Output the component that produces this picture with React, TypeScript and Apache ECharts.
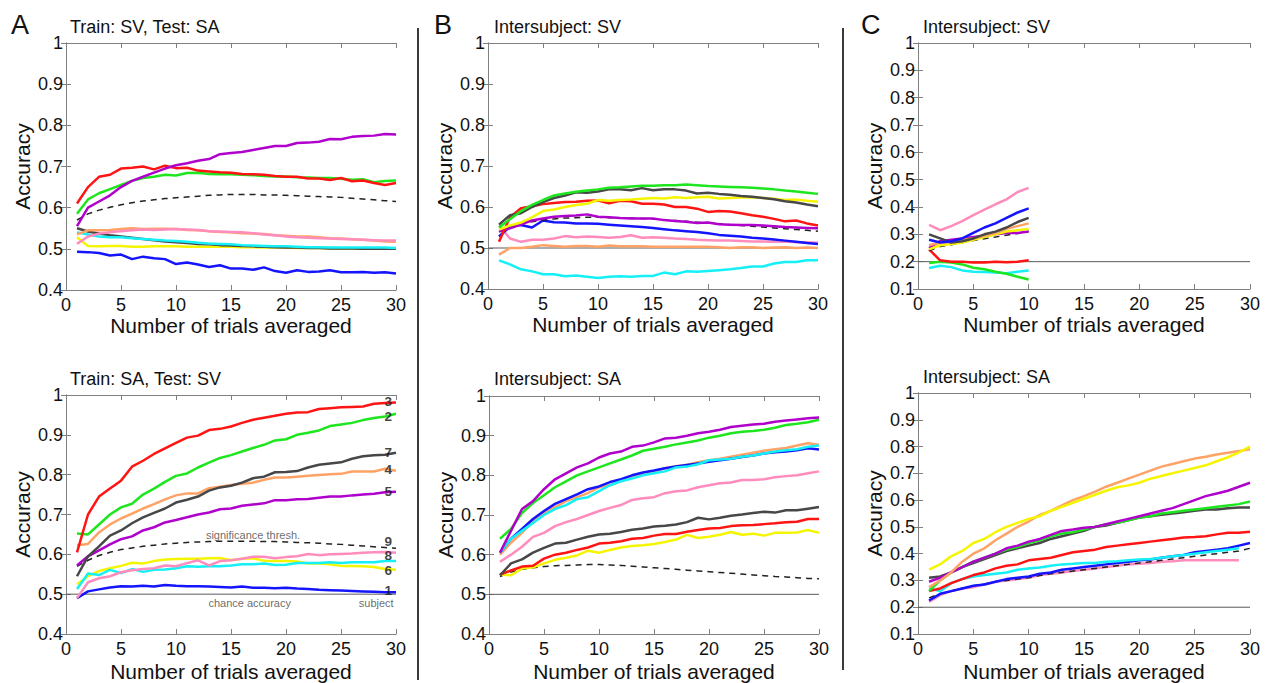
import React, { useEffect, useRef } from 'react';
import * as echarts from 'echarts';

const TRIALS = [1,2,3,4,5,6,7,8,9,10,11,12,13,14,15,16,17,18,19,20,21,22,23,24,25,26,27,28,29,30];

// ---- Panel A top: Train SV, Test SA
const aTopPurple = [0.555,0.600,0.615,0.630,0.650,0.665,0.675,0.685,0.695,0.703,0.708,0.714,0.718,0.730,0.733,0.735,0.740,0.745,0.750,0.750,0.757,0.758,0.760,0.767,0.766,0.772,0.774,0.775,0.779,0.778];
const aTopRed = [0.610,0.650,0.675,0.680,0.695,0.697,0.700,0.693,0.702,0.696,0.697,0.690,0.688,0.686,0.685,0.682,0.681,0.680,0.677,0.675,0.675,0.671,0.671,0.667,0.672,0.664,0.666,0.660,0.655,0.660];
const aTopGreen = [0.585,0.620,0.635,0.645,0.655,0.665,0.672,0.675,0.680,0.678,0.684,0.685,0.682,0.681,0.681,0.680,0.679,0.677,0.676,0.676,0.674,0.673,0.672,0.672,0.670,0.668,0.669,0.662,0.665,0.666];
const aTopThresh = [0.570,0.585,0.594,0.601,0.607,0.612,0.616,0.619,0.622,0.624,0.626,0.628,0.630,0.631,0.632,0.632,0.632,0.631,0.631,0.630,0.629,0.628,0.627,0.626,0.625,0.623,0.621,0.619,0.617,0.615];
const aTopOrange = [0.535,0.545,0.545,0.546,0.548,0.550,0.548,0.549,0.549,0.548,0.546,0.545,0.543,0.541,0.540,0.538,0.537,0.536,0.533,0.532,0.530,0.530,0.528,0.526,0.525,0.523,0.522,0.520,0.518,0.517];
const aTopPink = [0.512,0.530,0.537,0.540,0.543,0.545,0.547,0.546,0.547,0.548,0.547,0.546,0.543,0.542,0.541,0.540,0.538,0.535,0.533,0.530,0.528,0.527,0.526,0.525,0.524,0.523,0.522,0.521,0.520,0.520];
const aTopGray = [0.550,0.542,0.537,0.533,0.530,0.527,0.524,0.521,0.518,0.516,0.514,0.512,0.511,0.509,0.508,0.507,0.506,0.505,0.504,0.503,0.503,0.502,0.502,0.501,0.501,0.501,0.500,0.500,0.500,0.500];
const aTopCyan = [0.540,0.535,0.530,0.528,0.528,0.526,0.524,0.522,0.520,0.519,0.517,0.515,0.513,0.512,0.511,0.509,0.508,0.507,0.506,0.506,0.505,0.504,0.504,0.503,0.503,0.503,0.503,0.503,0.503,0.502];
const aTopYellow = [0.528,0.507,0.506,0.507,0.507,0.505,0.505,0.506,0.506,0.506,0.505,0.505,0.505,0.505,0.505,0.504,0.504,0.503,0.503,0.503,0.502,0.502,0.502,0.501,0.501,0.501,0.500,0.500,0.500,0.500];
const aTopBlue = [0.493,0.492,0.490,0.484,0.486,0.475,0.481,0.477,0.475,0.463,0.467,0.462,0.456,0.460,0.452,0.452,0.449,0.455,0.446,0.442,0.448,0.444,0.445,0.448,0.443,0.443,0.444,0.442,0.443,0.440];

// ---- Panel A bottom: Train SA, Test SV
const aBotRed = [0.605,0.700,0.745,0.765,0.785,0.820,0.835,0.852,0.866,0.880,0.893,0.898,0.912,0.915,0.921,0.930,0.938,0.943,0.948,0.953,0.956,0.957,0.965,0.967,0.969,0.970,0.971,0.978,0.980,0.981];
const aBotGreen = [0.652,0.650,0.675,0.700,0.718,0.727,0.750,0.765,0.782,0.797,0.803,0.818,0.830,0.842,0.849,0.858,0.867,0.875,0.886,0.889,0.900,0.905,0.911,0.922,0.926,0.930,0.937,0.942,0.946,0.953];
const aBotGray = [0.545,0.595,0.620,0.647,0.660,0.678,0.693,0.704,0.715,0.730,0.737,0.745,0.760,0.768,0.772,0.780,0.791,0.795,0.806,0.807,0.809,0.818,0.825,0.828,0.831,0.840,0.846,0.849,0.850,0.855];
const aBotOrange = [0.623,0.626,0.655,0.675,0.690,0.702,0.715,0.726,0.738,0.748,0.753,0.753,0.766,0.770,0.774,0.777,0.780,0.787,0.793,0.793,0.795,0.797,0.799,0.801,0.802,0.808,0.808,0.808,0.815,0.810];
const aBotPurple = [0.572,0.595,0.610,0.625,0.638,0.645,0.660,0.668,0.680,0.686,0.693,0.700,0.705,0.713,0.715,0.722,0.725,0.728,0.736,0.736,0.738,0.739,0.742,0.745,0.745,0.748,0.750,0.752,0.756,0.757];
const aBotThresh = [0.570,0.585,0.597,0.605,0.612,0.616,0.620,0.623,0.626,0.628,0.630,0.631,0.632,0.633,0.633,0.633,0.633,0.632,0.632,0.631,0.630,0.629,0.628,0.626,0.625,0.623,0.621,0.619,0.617,0.615];
const aBotPink = [0.490,0.530,0.540,0.545,0.555,0.560,0.563,0.565,0.572,0.570,0.578,0.585,0.572,0.583,0.585,0.589,0.594,0.594,0.590,0.593,0.595,0.601,0.598,0.600,0.601,0.602,0.604,0.605,0.606,0.604];
const aBotCyan = [0.513,0.552,0.548,0.561,0.553,0.563,0.556,0.561,0.562,0.565,0.570,0.569,0.570,0.570,0.572,0.575,0.575,0.577,0.573,0.574,0.578,0.578,0.578,0.580,0.578,0.580,0.580,0.580,0.583,0.583];
const aBotYellow = [0.525,0.545,0.558,0.565,0.571,0.579,0.577,0.583,0.587,0.588,0.589,0.589,0.590,0.591,0.585,0.589,0.590,0.584,0.583,0.583,0.582,0.577,0.577,0.575,0.571,0.571,0.570,0.568,0.563,0.561];
const aBotBlue = [0.490,0.507,0.512,0.517,0.520,0.519,0.521,0.519,0.523,0.521,0.520,0.520,0.519,0.518,0.517,0.519,0.516,0.516,0.515,0.516,0.514,0.513,0.511,0.510,0.509,0.508,0.507,0.506,0.505,0.505];

// subject labels in panel A bottom
const SUBJECT_LABELS = ['3','2','7','4','5','9','8','6','1'];
const SUBJECT_LABEL_Y = [0.984,0.947,0.855,0.812,0.757,0.631,0.597,0.560,0.510];

// ---- Panel B top: Intersubject SV
const bTopGreen = [0.550,0.570,0.590,0.605,0.617,0.628,0.633,0.637,0.640,0.643,0.647,0.648,0.650,0.652,0.652,0.653,0.653,0.655,0.653,0.651,0.650,0.649,0.648,0.647,0.645,0.643,0.640,0.638,0.635,0.632];
const bTopGray = [0.557,0.580,0.585,0.600,0.612,0.622,0.628,0.636,0.635,0.638,0.643,0.643,0.641,0.646,0.641,0.643,0.643,0.640,0.633,0.635,0.632,0.630,0.627,0.625,0.622,0.619,0.614,0.611,0.606,0.602];
const bTopYellow = [0.545,0.555,0.562,0.575,0.590,0.594,0.600,0.605,0.608,0.617,0.615,0.617,0.618,0.620,0.622,0.621,0.624,0.622,0.624,0.625,0.621,0.622,0.623,0.624,0.622,0.620,0.617,0.618,0.615,0.613];
const bTopRed = [0.515,0.575,0.597,0.602,0.607,0.610,0.612,0.613,0.615,0.616,0.609,0.615,0.614,0.608,0.608,0.606,0.600,0.600,0.596,0.588,0.590,0.589,0.585,0.580,0.576,0.571,0.565,0.567,0.560,0.555];
const bTopPurple = [0.540,0.548,0.558,0.567,0.572,0.576,0.578,0.579,0.582,0.576,0.575,0.573,0.572,0.572,0.572,0.568,0.566,0.564,0.561,0.562,0.558,0.557,0.556,0.556,0.555,0.553,0.551,0.550,0.549,0.548];
const bTopThresh = [0.540,0.550,0.558,0.564,0.568,0.571,0.573,0.574,0.575,0.575,0.574,0.574,0.573,0.572,0.571,0.569,0.567,0.565,0.563,0.561,0.559,0.557,0.555,0.553,0.551,0.549,0.547,0.545,0.543,0.541];
const bTopBlue = [0.528,0.552,0.556,0.550,0.567,0.563,0.562,0.560,0.560,0.559,0.557,0.555,0.553,0.551,0.549,0.546,0.543,0.541,0.539,0.536,0.532,0.530,0.528,0.525,0.523,0.521,0.518,0.515,0.512,0.510];
const bTopPink = [0.555,0.523,0.515,0.520,0.520,0.523,0.529,0.526,0.528,0.527,0.525,0.527,0.531,0.525,0.526,0.525,0.523,0.522,0.520,0.519,0.518,0.518,0.517,0.516,0.516,0.515,0.516,0.514,0.514,0.513];
const bTopOrange = [0.484,0.500,0.500,0.503,0.507,0.505,0.503,0.505,0.505,0.503,0.506,0.504,0.504,0.504,0.503,0.503,0.503,0.503,0.503,0.503,0.502,0.500,0.502,0.502,0.500,0.501,0.502,0.500,0.501,0.500];
const bTopCyan = [0.470,0.460,0.448,0.443,0.436,0.436,0.431,0.433,0.430,0.427,0.430,0.431,0.430,0.432,0.432,0.440,0.436,0.443,0.442,0.444,0.446,0.448,0.451,0.455,0.455,0.462,0.466,0.466,0.470,0.470];

// ---- Panel B bottom: Intersubject SA
const bBotPurple = [0.605,0.660,0.715,0.735,0.765,0.790,0.805,0.820,0.830,0.845,0.855,0.860,0.872,0.875,0.883,0.893,0.895,0.900,0.906,0.910,0.915,0.922,0.925,0.928,0.930,0.935,0.938,0.941,0.944,0.946];
const bBotGreen = [0.640,0.665,0.705,0.730,0.750,0.770,0.785,0.800,0.810,0.820,0.830,0.840,0.850,0.862,0.867,0.872,0.878,0.883,0.888,0.895,0.900,0.906,0.910,0.912,0.915,0.920,0.927,0.930,0.934,0.940];
const bBotOrange = [0.600,0.630,0.655,0.685,0.705,0.720,0.735,0.745,0.755,0.770,0.775,0.787,0.795,0.803,0.810,0.818,0.823,0.827,0.833,0.838,0.842,0.847,0.852,0.857,0.862,0.866,0.869,0.875,0.881,0.877];
const bBotBlue = [0.605,0.640,0.665,0.690,0.710,0.728,0.740,0.752,0.765,0.772,0.783,0.790,0.800,0.807,0.812,0.818,0.822,0.826,0.830,0.834,0.838,0.842,0.846,0.850,0.855,0.858,0.860,0.863,0.868,0.865];
const bBotCyan = [0.605,0.640,0.660,0.680,0.700,0.715,0.725,0.740,0.745,0.760,0.775,0.785,0.792,0.800,0.805,0.810,0.820,0.822,0.828,0.838,0.840,0.842,0.847,0.850,0.855,0.860,0.863,0.866,0.872,0.875];
const bBotPink = [0.582,0.600,0.620,0.645,0.655,0.672,0.682,0.690,0.700,0.710,0.718,0.725,0.738,0.742,0.745,0.755,0.760,0.762,0.770,0.775,0.780,0.782,0.788,0.788,0.790,0.795,0.798,0.800,0.805,0.810];
const bBotGray = [0.548,0.578,0.588,0.605,0.617,0.628,0.630,0.638,0.645,0.651,0.653,0.657,0.663,0.666,0.671,0.673,0.676,0.682,0.693,0.689,0.693,0.698,0.701,0.705,0.708,0.706,0.712,0.712,0.716,0.720];
const bBotRed = [0.550,0.560,0.570,0.572,0.590,0.600,0.605,0.612,0.618,0.628,0.630,0.634,0.640,0.642,0.648,0.652,0.652,0.658,0.662,0.666,0.667,0.672,0.674,0.675,0.677,0.679,0.682,0.683,0.690,0.690];
const bBotYellow = [0.550,0.548,0.565,0.568,0.578,0.587,0.592,0.598,0.610,0.605,0.612,0.618,0.622,0.624,0.627,0.632,0.638,0.650,0.642,0.645,0.650,0.657,0.650,0.653,0.648,0.655,0.655,0.656,0.662,0.655];
const bBotThresh = [0.545,0.556,0.563,0.567,0.570,0.572,0.573,0.574,0.575,0.575,0.574,0.573,0.571,0.569,0.567,0.565,0.563,0.561,0.559,0.557,0.555,0.553,0.551,0.549,0.547,0.545,0.544,0.542,0.540,0.539];

// ---- Panel C top: Intersubject SV (10 trials)
const cTopPink = [0.335,0.315,0.330,0.348,0.370,0.390,0.410,0.428,0.455,0.470];
const cTopBlue = [0.280,0.270,0.275,0.285,0.305,0.325,0.340,0.360,0.380,0.395];
const cTopGray = [0.300,0.285,0.270,0.275,0.285,0.300,0.310,0.325,0.345,0.360];
const cTopOrange = [0.260,0.270,0.270,0.280,0.285,0.295,0.305,0.320,0.330,0.340];
const cTopYellow = [0.245,0.260,0.265,0.270,0.280,0.290,0.300,0.310,0.315,0.320];
const cTopPurple = [0.250,0.275,0.280,0.285,0.290,0.295,0.300,0.305,0.305,0.310];
const cTopThresh = [0.240,0.255,0.262,0.270,0.277,0.284,0.290,0.297,0.303,0.310];
const cTopRed = [0.245,0.205,0.200,0.200,0.197,0.197,0.200,0.198,0.200,0.205];
const cTopGreen = [0.195,0.200,0.197,0.190,0.178,0.172,0.163,0.156,0.145,0.135];
const cTopCyan = [0.177,0.185,0.180,0.168,0.163,0.162,0.160,0.158,0.163,0.168];

// ---- Panel C bottom: Intersubject SA
const cBotYellow = [0.340,0.360,0.390,0.410,0.440,0.455,0.480,0.500,0.515,0.530,0.540,0.560,0.575,0.590,0.605,0.620,0.635,0.648,0.655,0.665,0.680,0.690,0.700,0.710,0.720,0.730,0.745,0.760,0.778,0.800];
const cBotOrange = [0.275,0.300,0.330,0.370,0.400,0.420,0.450,0.475,0.500,0.520,0.545,0.560,0.580,0.600,0.615,0.632,0.650,0.665,0.680,0.695,0.710,0.725,0.735,0.745,0.755,0.762,0.770,0.777,0.783,0.790];
const cBotPurple = [0.295,0.310,0.330,0.350,0.370,0.385,0.400,0.420,0.430,0.445,0.455,0.470,0.485,0.490,0.497,0.500,0.510,0.520,0.530,0.540,0.550,0.560,0.570,0.585,0.600,0.615,0.625,0.635,0.650,0.665];
const cBotGreen = [0.260,0.300,0.330,0.350,0.370,0.385,0.400,0.415,0.425,0.440,0.450,0.465,0.475,0.480,0.490,0.500,0.510,0.515,0.525,0.535,0.540,0.550,0.555,0.560,0.565,0.570,0.575,0.580,0.585,0.595];
const cBotGray = [0.310,0.315,0.330,0.350,0.365,0.380,0.395,0.410,0.420,0.430,0.440,0.455,0.465,0.475,0.485,0.500,0.505,0.515,0.525,0.535,0.540,0.545,0.550,0.555,0.560,0.565,0.565,0.570,0.572,0.572];
const cBotRed = [0.260,0.270,0.290,0.305,0.320,0.330,0.345,0.355,0.360,0.375,0.380,0.385,0.395,0.405,0.410,0.415,0.425,0.430,0.435,0.440,0.445,0.450,0.455,0.460,0.462,0.465,0.472,0.478,0.478,0.482];
const cBotCyan = [0.270,0.260,0.290,0.305,0.315,0.320,0.325,0.330,0.340,0.345,0.348,0.355,0.360,0.362,0.365,0.365,0.370,0.372,0.375,0.378,0.380,0.385,0.390,0.395,0.400,0.405,0.410,0.415,0.420];
const cBotBlue = [0.225,0.250,0.260,0.270,0.280,0.285,0.295,0.305,0.310,0.315,0.325,0.330,0.340,0.345,0.350,0.355,0.360,0.365,0.370,0.375,0.378,0.385,0.390,0.395,0.405,0.410,0.415,0.420,0.430,0.440];
const cBotPink = [0.220,0.245,0.260,0.270,0.275,0.285,0.295,0.300,0.305,0.310,0.320,0.325,0.330,0.335,0.340,0.345,0.350,0.355,0.360,0.362,0.365,0.370,0.372,0.375,0.375,0.375,0.375,0.375,0.375];
const cBotThresh = [0.235,0.250,0.260,0.270,0.280,0.287,0.295,0.300,0.305,0.310,0.318,0.325,0.330,0.335,0.340,0.345,0.350,0.355,0.360,0.365,0.370,0.375,0.380,0.385,0.390,0.395,0.400,0.405,0.410,0.420];

const FONT = 'Liberation Sans';
const C = {
  red: '#ff1414', green: '#1ee61e', blue: '#1414ff', cyan: '#14f0f5', yellow: '#f5f500',
  purple: '#b000cc', orange: '#ffa266', pink: '#ff8cbc', gray: '#474747', dash: '#222222',
};

type S = { color: string; data: number[]; dashed?: boolean };

const panels = [
  {
    grid: { left: 66, top: 43, width: 330, height: 247 }, ymin: 0.4, chance: null as number | null, nameGap: 24,
    title: 'Train: SV, Test: SA', titlePos: [70, 18],
    series: [
      { color: C.yellow, data: aTopYellow }, { color: C.gray, data: aTopGray }, { color: C.cyan, data: aTopCyan },
      { color: C.orange, data: aTopOrange }, { color: C.pink, data: aTopPink }, { color: C.blue, data: aTopBlue },
      { color: C.dash, data: aTopThresh, dashed: true }, { color: C.green, data: aTopGreen },
      { color: C.red, data: aTopRed }, { color: C.purple, data: aTopPurple },
    ] as S[],
  },
  {
    grid: { left: 66, top: 395, width: 330, height: 248 }, ymin: 0.4, chance: 0.5, nameGap: 27,
    title: 'Train: SA, Test: SV', titlePos: [70, 370],
    series: [
      { color: C.blue, data: aBotBlue }, { color: C.yellow, data: aBotYellow }, { color: C.cyan, data: aBotCyan },
      { color: C.pink, data: aBotPink }, { color: C.dash, data: aBotThresh, dashed: true },
      { color: C.purple, data: aBotPurple }, { color: C.orange, data: aBotOrange }, { color: C.gray, data: aBotGray },
      { color: C.green, data: aBotGreen }, { color: C.red, data: aBotRed },
    ] as S[],
  },
  {
    grid: { left: 488, top: 43, width: 330, height: 246 }, ymin: 0.4, chance: 0.5, nameGap: 24,
    title: 'Intersubject: SV', titlePos: [494, 18],
    series: [
      { color: C.cyan, data: bTopCyan }, { color: C.orange, data: bTopOrange }, { color: C.pink, data: bTopPink },
      { color: C.blue, data: bTopBlue }, { color: C.dash, data: bTopThresh, dashed: true },
      { color: C.purple, data: bTopPurple }, { color: C.red, data: bTopRed }, { color: C.yellow, data: bTopYellow },
      { color: C.gray, data: bTopGray }, { color: C.green, data: bTopGreen },
    ] as S[],
  },
  {
    grid: { left: 489, top: 396, width: 330, height: 247 }, ymin: 0.4, chance: 0.5, nameGap: 27,
    title: 'Intersubject: SA', titlePos: [494, 370],
    series: [
      { color: C.dash, data: bBotThresh, dashed: true }, { color: C.yellow, data: bBotYellow }, { color: C.red, data: bBotRed },
      { color: C.gray, data: bBotGray }, { color: C.pink, data: bBotPink }, { color: C.orange, data: bBotOrange },
      { color: C.blue, data: bBotBlue }, { color: C.cyan, data: bBotCyan }, { color: C.green, data: bBotGreen },
      { color: C.purple, data: bBotPurple },
    ] as S[],
  },
  {
    grid: { left: 918, top: 43, width: 332, height: 246 }, ymin: 0.1, chance: 0.2, nameGap: 24,
    title: 'Intersubject: SV', titlePos: [923, 18],
    series: [
      { color: C.cyan, data: cTopCyan }, { color: C.green, data: cTopGreen }, { color: C.red, data: cTopRed },
      { color: C.dash, data: cTopThresh, dashed: true }, { color: C.purple, data: cTopPurple },
      { color: C.yellow, data: cTopYellow }, { color: C.orange, data: cTopOrange }, { color: C.gray, data: cTopGray },
      { color: C.blue, data: cTopBlue }, { color: C.pink, data: cTopPink },
    ] as S[],
  },
  {
    grid: { left: 918, top: 393, width: 332, height: 249 }, ymin: 0.1, chance: 0.2, nameGap: 27,
    title: 'Intersubject: SA', titlePos: [923, 368],
    series: [
      { color: C.pink, data: cBotPink }, { color: C.dash, data: cBotThresh, dashed: true }, { color: C.blue, data: cBotBlue },
      { color: C.cyan, data: cBotCyan }, { color: C.red, data: cBotRed }, { color: C.gray, data: cBotGray },
      { color: C.green, data: cBotGreen }, { color: C.purple, data: cBotPurple }, { color: C.orange, data: cBotOrange },
      { color: C.yellow, data: cBotYellow },
    ] as S[],
  },
];

const AXIS_COLOR = '#808080';

function buildOption() {
  const grid: any[] = [];
  const xAxis: any[] = [];
  const yAxis: any[] = [];
  const series: any[] = [];
  const title: any[] = [];

  panels.forEach((p, i) => {
    grid.push({ ...p.grid });
    const tick = { show: true, inside: true, length: 5, lineStyle: { color: AXIS_COLOR, width: 1 } };
    const line = { show: true, lineStyle: { color: AXIS_COLOR, width: 1 } };
    xAxis.push({
      gridIndex: i, type: 'value', position: 'bottom', min: 0, max: 30, interval: 5,
      axisLine: line, axisTick: tick, splitLine: { show: false },
      axisLabel: { color: '#111', fontSize: 18, fontFamily: FONT, margin: 6 },
      name: 'Number of trials averaged', nameLocation: 'middle', nameGap: p.nameGap,
      nameTextStyle: { color: '#111', fontSize: 21, fontFamily: FONT },
    });
    xAxis.push({
      gridIndex: i, type: 'value', position: 'top', min: 0, max: 30, interval: 5,
      axisLine: line, axisTick: tick, splitLine: { show: false }, axisLabel: { show: false },
    });
    yAxis.push({
      gridIndex: i, type: 'value', position: 'left', min: p.ymin, max: 1, interval: 0.1,
      axisLine: line, axisTick: tick, splitLine: { show: false },
      axisLabel: { color: '#111', fontSize: 18, fontFamily: FONT, margin: 3 },
      name: 'Accuracy', nameLocation: 'middle', nameGap: 33,
      nameTextStyle: { color: '#111', fontSize: 21, fontFamily: FONT },
    });
    yAxis.push({
      gridIndex: i, type: 'value', position: 'right', min: p.ymin, max: 1, interval: 0.1,
      axisLine: line, axisTick: tick, splitLine: { show: false }, axisLabel: { show: false },
    });

    // chance line
    if (p.chance !== null) {
      series.push({
        type: 'line', xAxisIndex: 2 * i, yAxisIndex: 2 * i, silent: true, symbol: 'none',
        data: [[0, p.chance], [30, p.chance]],
        lineStyle: { color: '#5a5a5a', width: 1 }, z: 1,
      });
    }

    p.series.forEach((s) => {
      series.push({
        type: 'line', xAxisIndex: 2 * i, yAxisIndex: 2 * i, silent: true, symbol: 'none',
        data: s.data.map((v, k) => [TRIALS[k], v]),
        lineStyle: { color: s.color, width: s.dashed ? 1.5 : 2.5, type: s.dashed ? [6, 5] : 'solid' },
        itemStyle: { color: s.color }, z: 2,
      });
    });

    title.push({
      text: p.title, left: p.titlePos[0], top: p.titlePos[1], padding: 0,
      textStyle: { fontSize: 18, fontWeight: 'normal', color: '#111', fontFamily: FONT },
    });
  });

  // Annotations in panel A bottom
  series.push({
    type: 'scatter', xAxisIndex: 2, yAxisIndex: 2, silent: true, symbolSize: 1,
    itemStyle: { color: 'rgba(0,0,0,0)' },
    data: SUBJECT_LABELS.map((t, k) => ({ value: [29.3, SUBJECT_LABEL_Y[k]], name: t })),
    label: {
      show: true, position: 'inside', formatter: (d: any) => d.name,
      fontSize: 13.5, fontWeight: 'bold', color: '#111', fontFamily: FONT,
    },
    z: 5,
  });
  series.push({
    type: 'scatter', xAxisIndex: 2, yAxisIndex: 2, silent: true, symbolSize: 1,
    itemStyle: { color: 'rgba(0,0,0,0)' },
    data: [
      { value: [16.7, 0.479], name: 'chance accuracy' },
      { value: [17.0, 0.648], name: 'significance thresh.' },
      { value: [28.2, 0.479], name: 'subject' },
    ],
    label: {
      show: true, position: 'inside', formatter: (d: any) => d.name,
      fontSize: 11, color: '#444', fontFamily: FONT,
    },
    z: 5,
  });

  // panel letters
  [['A', 11], ['B', 434], ['C', 861]].forEach(([t, x]) => {
    title.push({
      text: t as string, left: x as number, top: 11, padding: 0,
      textStyle: { fontSize: 27, fontWeight: 'normal', color: '#111', fontFamily: FONT },
    });
  });

  return {
    animation: false,
    backgroundColor: '#ffffff',
    title, grid, xAxis, yAxis, series,
    graphic: [
      { type: 'line', shape: { x1: 418, y1: 28, x2: 418, y2: 680 }, style: { stroke: '#3a3a3a', lineWidth: 2 } },
      { type: 'line', shape: { x1: 843, y1: 28, x2: 843, y2: 670 }, style: { stroke: '#3a3a3a', lineWidth: 2 } },
    ],
  };
}

export default function App() {
  const ref = useRef<HTMLDivElement>(null);
  useEffect(() => {
    document.body.style.margin = '0';
    if (!ref.current) return;
    const chart = echarts.init(ref.current, undefined, { renderer: 'svg' });
    chart.setOption(buildOption() as any);
    return () => chart.dispose();
  }, []);
  return <div ref={ref} style={{ width: 1267, height: 683 }} />;
}
